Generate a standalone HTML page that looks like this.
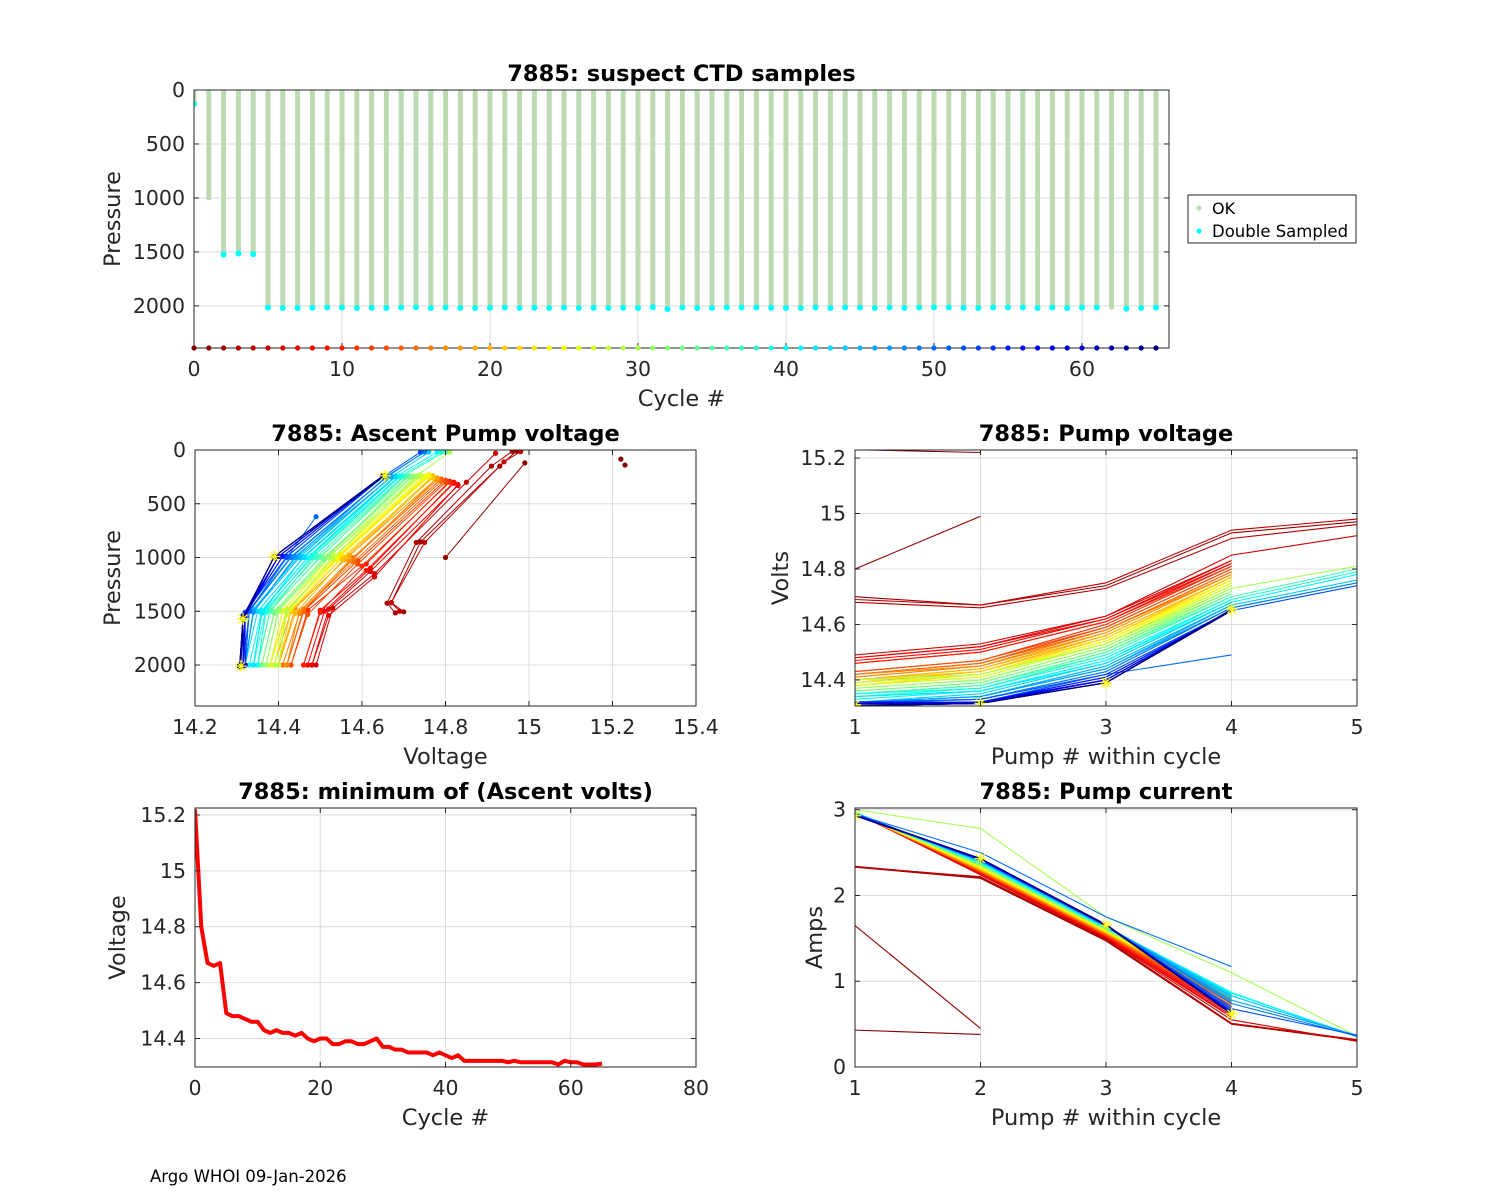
<!DOCTYPE html>
<html><head><meta charset="utf-8"><title>7885 pump diagnostics</title>
<style>
html,body{margin:0;padding:0;background:#fff;}
svg{display:block;font-family:"DejaVu Sans","Liberation Sans",sans-serif;}
.tk{font-size:20.5px;fill:#262626;}
.lb{font-size:22.5px;fill:#262626;}
.tt{font-size:22.5px;font-weight:bold;fill:#000;}
</style></head>
<body>
<svg id="fig" width="1500" height="1200" viewBox="0 0 1500 1200"></svg>
<script>
const N = null;
// cycles 0..65
const cycles = [0,1,2,3,4,5,6,7,8,9,10,11,12,13,14,15,16,17,18,19,20,21,22,23,24,25,26,27,28,29,30,31,32,33,34,35,36,37,38,39,40,41,42,43,44,45,46,47,48,49,50,51,52,53,54,55,56,57,58,59,60,61,62,63,64,65];
// max pressure sampled per cycle and double-sampled flag
const maxDepth = [125,1000,1520,1510,1515, 2010,2015,2015,2012,2010, 2010,2015,2012,2015,2010,2008,2015,2010,2015,2015, 2012,2010,2015,2012,2015,2010,2015,2012,2015,2012, 2015,2008,2025,2010,2015,2015,2010,2010,2010,2012, 2015,2015,2010,2015,2010,2010,2015,2010,2015,2010, 2008,2010,2012,2015,2010,2010,2010,2015,2010,2015, 2010,2010,2012,2020,2015,2010];
const dblSampled = [1,0,1,1,1, 1,1,1,1,1, 1,1,1,1,1,1,1,1,1,1, 1,1,1,1,1,1,1,1,1,1, 1,1,1,1,1,1,1,1,1,1, 1,1,1,1,1,1,1,1,1,1, 1,1,1,1,1,1,1,1,1,1, 1,1,0,1,1,1];
// pump voltages (pump 1..5) per cycle
const v1 = [15.23,14.80,14.70,14.68,14.69, 14.49,14.48,14.48,14.47,14.46,
14.46,14.43,14.42,14.43,14.42,14.42,14.41,14.42,14.40,14.39,
14.40,14.40,14.38,14.38,14.39,14.39,14.38,14.38,14.39,14.40,
14.37,14.37,14.36,14.36,14.35,14.35,14.35,14.35,14.34,14.35,
14.34,14.33,14.34,14.32,14.32,14.32,14.32,14.32,14.32,14.32,
14.315,14.32,14.315,14.315,14.315,14.315,14.315,14.315,14.307,14.32,
14.315,14.315,14.307,14.307,14.307,14.31];
const v2 = [15.22,14.99,14.67,14.66,14.67, 14.53,14.52,14.52,14.51,14.50,
14.50,14.47,14.46,14.47,14.46,14.46,14.45,14.45,14.44,14.43,
14.44,14.43,14.42,14.42,14.42,14.42,14.41,14.41,14.42,14.42,
14.40,14.40,14.39,14.39,14.38,14.38,14.38,14.37,14.37,14.37,
14.36,14.36,14.36,14.35,14.34,14.34,14.34,14.34,14.33,14.33,
14.33,14.33,14.32,14.32,14.32,14.32,14.32,14.315,14.315,14.32,
14.315,14.315,14.315,14.315,14.315,14.315];
const v3 = [N,N,14.74,14.73,14.75, 14.63,14.63,14.62,14.62,14.61,
14.61,14.60,14.59,14.59,14.58,14.58,14.58,14.57,14.57,14.56,
14.56,14.55,14.55,14.54,14.54,14.54,14.53,14.53,14.53,14.53,
14.52,14.52,14.51,14.51,14.50,14.50,14.49,14.49,14.48,14.48,
14.47,14.47,14.46,14.46,14.45,14.45,14.44,14.44,14.43,14.43,
14.42,14.42,14.42,14.41,14.41,14.41,14.40,14.40,14.40,14.40,
14.39,14.39,14.39,14.39,14.39,14.39];
const v4 = [N,N,14.93,14.91,14.94, 14.85,14.83,14.83,14.82,14.82,
14.81,14.81,14.80,14.80,14.79,14.79,14.78,14.78,14.78,14.77,
14.77,14.77,14.76,14.76,14.76,14.75,14.75,14.74,14.74,14.73,
14.73,14.72,14.72,14.71,14.71,14.70,14.70,14.70,14.69,14.69,
14.69,14.68,14.68,14.68,14.67,14.67,14.67,14.66,14.66,14.66,
14.49,14.65,14.65,14.65,14.65,14.65,14.65,14.65,14.65,14.65,
14.65,14.65,14.65,14.65,14.65,14.655];
const v5 = [N,N,14.97,14.96,14.98, 14.92,N,N,N,N,
N,N,N,N,N,N,N,N,N,N,
N,N,N,N,N,N,N,N,N,N,
14.81,N,N,N,N,N,14.80,N,14.79,N,
N,14.78,N,N,14.76,N,N,14.75,N,14.75,
N,N,14.74,N,N,N,N,N,N,N,
N,N,N,N,N,N];
// pressure at each pump during ascent
const p1 = [140,1000,1505,1515,1500, 2000,2000,2000,2000,2000,
2000,2000,2000,2000,2000,2000,2000,2000,2000,2000,
2000,2000,2000,2000,2000,2000,2000,2000,2000,2000,
2000,2000,2000,2000,2000,2000,2000,2000,2000,2000,
2000,2000,2000,2000,2000,2000,2000,2000,2000,2000,
2000,2000,2000,2000,2000,2000,2000,2000,2000,2000,
2010,2010,2010,2015,2015,2010];
const p2 = [85,120,1420,1425,1420, 1470,1540,1480,1500,1490,
1510,1490,1500,1530,1500,1480,1520,1500,1470,1500,
1520,1500,1480,1500,1530,1500,1490,1500,1520,1500,
1500,1480,1500,1520,1500,1490,1500,1510,1480,1500,
1500,1490,1520,1500,1480,1500,1510,1500,1490,1500,
1500,1500,1510,1520,1520,1530,1530,1540,1540,1550,
1550,1560,1560,1570,1570,1570];
const p3 = [N,N,855,860,860, 1150,1180,1130,1100,1120,
1060,1080,1030,1060,1000,1040,1010,1030,980,1020,
1000,1010,970,1000,1020,990,1000,960,1000,1010,
1000,980,1000,1020,990,1000,970,1000,1000,980,
1000,1000,990,1000,980,1000,990,1000,990,1000,
1000,990,990,990,990,990,990,990,990,990,
990,990,990,990,990,990];
const p4 = [N,N,150,150,110, 300,320,330,300,310,
290,300,280,300,270,290,260,280,260,250,
240,260,230,250,240,250,240,250,230,250,
240,250,240,250,240,250,240,250,250,240,
250,250,240,250,250,245,250,240,250,250,
620,250,250,245,245,245,245,240,240,240,
240,240,240,240,240,240];
const p5 = [N,N,10,12,15, 30,N,N,N,N,
N,N,N,N,N,N,N,N,N,N,
N,N,N,N,N,N,N,N,N,N,
20,N,N,N,N,N,15,N,20,N,
N,20,N,N,20,N,N,20,N,15,
N,N,20,N,N,N,N,N,N,N,
N,N,N,N,N,N];
// pump currents (amps)
const i1 = [0.43,1.65,2.33,2.34,2.33, 2.97,2.97,2.97,2.96,2.97,
2.97,2.97,2.96,2.97,2.97,2.97,2.96,2.97,2.97,2.97,
2.96,2.97,2.97,2.97,2.96,2.97,2.97,2.97,2.96,2.97,
3.00,2.97,2.96,2.97,2.97,2.96,2.97,2.96,2.97,2.96,
2.96,2.96,2.95,2.96,2.95,2.96,2.95,2.95,2.95,2.95,
2.95,2.95,2.94,2.95,2.94,2.94,2.94,2.94,2.94,2.94,
2.94,2.93,2.93,2.93,2.93,2.93];
const i2 = [0.38,0.45,2.20,2.21,2.22, 2.24,2.25,2.25,2.26,2.26,
2.27,2.27,2.28,2.28,2.28,2.29,2.29,2.30,2.30,2.30,
2.31,2.31,2.32,2.32,2.32,2.33,2.33,2.34,2.34,2.35,
2.78,2.35,2.36,2.36,2.37,2.37,2.37,2.38,2.38,2.38,
2.39,2.39,2.39,2.40,2.40,2.40,2.40,2.41,2.41,2.41,
2.50,2.41,2.42,2.42,2.42,2.42,2.42,2.42,2.43,2.43,
2.43,2.43,2.43,2.43,2.43,2.43];
const i3 = [N,N,1.47,1.48,1.49, 1.50,1.51,1.51,1.52,1.52,
1.53,1.53,1.54,1.54,1.55,1.55,1.55,1.56,1.56,1.57,
1.57,1.57,1.58,1.58,1.58,1.59,1.59,1.59,1.60,1.60,
1.75,1.60,1.61,1.61,1.61,1.62,1.62,1.62,1.62,1.63,
1.63,1.63,1.63,1.64,1.64,1.64,1.64,1.64,1.65,1.65,
1.75,1.65,1.65,1.65,1.65,1.66,1.66,1.66,1.66,1.66,
1.66,1.66,1.66,1.66,1.66,1.65];
const i4 = [N,N,0.50,0.50,0.51, 0.55,0.58,0.60,0.62,0.64,
0.66,0.68,0.70,0.72,0.74,0.75,0.76,0.77,0.78,0.79,
0.80,0.80,0.81,0.82,0.82,0.83,0.83,0.84,0.84,0.85,
1.10,0.85,0.86,0.86,0.86,0.86,0.87,0.87,0.87,0.87,
0.86,0.86,0.85,0.84,0.83,0.82,0.80,0.78,0.76,0.74,
1.17,0.70,0.68,0.66,0.65,0.64,0.64,0.63,0.63,0.63,
0.62,0.62,0.62,0.62,0.62,0.62];
const i5 = [N,N,0.31,0.31,0.32, 0.30,N,N,N,N,
N,N,N,N,N,N,N,N,N,N,
N,N,N,N,N,N,N,N,N,N,
0.36,N,N,N,N,N,0.35,N,0.35,N,
N,0.36,N,N,0.36,N,N,0.37,N,0.36,
N,N,0.37,N,N,N,N,N,N,N,
N,N,N,N,N,N];
const pumpNums = [1,2,3,4,5];
const topYTicks = [0,500,1000,1500,2000];
const topXTicks = [0,10,20,30,40,50,60];
const ascXTicks = [14.2,14.4,14.6,14.8,15,15.2,15.4];
const ascYTicks = [0,500,1000,1500,2000];
const pvYTicks = [14.4,14.6,14.8,15,15.2];
const minXTicks = [0,20,40,60,80];
const minYTicks = [14.4,14.6,14.8,15,15.2];
const curYTicks = [0,1,2,3];

const NS = 'http://www.w3.org/2000/svg';
const fig = document.getElementById('fig');
function mk(tag, attrs, parent){
  const e = document.createElementNS(NS, tag);
  for (const k in attrs) e.setAttribute(k, attrs[k]);
  (parent||fig).appendChild(e);
  return e;
}
function jet(c){
  const t = 1 - c/65;
  const cl = v => Math.max(0, Math.min(1, v));
  const r = cl(1.5 - Math.abs(4*t-3)), g = cl(1.5 - Math.abs(4*t-2)), b = cl(1.5 - Math.abs(4*t-1));
  return 'rgb(' + Math.round(r*255) + ',' + Math.round(g*255) + ',' + Math.round(b*255) + ')';
}
function fmt(v){ return String(Math.round(v*100)/100); }

function makeAxes(name, box, xlim, ylim, rev, xticks, yticks, title, xlabel, ylabel, opts){
  opts = opts || {};
  const g = mk('g', {});
  
  
  const sx = v => box.x + (v - xlim[0]) / (xlim[1]-xlim[0]) * box.w;
  const sy = rev ? (v => box.y + (v - ylim[0]) / (ylim[1]-ylim[0]) * box.h)
                 : (v => box.y + box.h - (v - ylim[0]) / (ylim[1]-ylim[0]) * box.h);
  const grid = mk('g', {stroke:'#dedede','stroke-width':1}, g);
  
  
  xticks.forEach(t => mk('line', {x1:sx(t), x2:sx(t), y1:box.y, y2:box.y+box.h}, grid));
  yticks.forEach(t => mk('line', {x1:box.x, x2:box.x+box.w, y1:sy(t), y2:sy(t)}, grid));
  const id = 'clip-' + name;
  const cp = mk('clipPath', {id:id}, g);
  mk('rect', {x:box.x, y:box.y, width:box.w, height:box.h}, cp);
  const plot = mk('g', {'clip-path':'url(#'+id+')'}, g);
  
  
  const frame = mk('g', {}, g);
  function finish(){
    mk('rect', {x:box.x, y:box.y, width:box.w, height:box.h, fill:'none', stroke:'#262626', 'stroke-width':1}, frame);
    const tl = 5;
    xticks.forEach(t => {
      mk('line', {x1:sx(t), x2:sx(t), y1:box.y+box.h, y2:box.y+box.h-tl, stroke:'#262626'}, frame);
      if (!opts.noTopTicks) mk('line', {x1:sx(t), x2:sx(t), y1:box.y, y2:box.y+tl, stroke:'#262626'}, frame);
      const tx = mk('text', {x:sx(t), y:box.y+box.h+28, 'text-anchor':'middle', class:'tk'}, frame);
      
      
      tx.textContent = fmt(t);
    });
    yticks.forEach(t => {
      mk('line', {x1:box.x, x2:box.x+tl, y1:sy(t), y2:sy(t), stroke:'#262626'}, frame);
      mk('line', {x1:box.x+box.w, x2:box.x+box.w-tl, y1:sy(t), y2:sy(t), stroke:'#262626'}, frame);
      const ty = mk('text', {x:box.x-9, y:sy(t)+7, 'text-anchor':'end', class:'tk'}, frame);
      
      
      ty.textContent = fmt(t);
    });
    const tt = mk('text', {x:box.x+box.w/2, y:box.y-9, 'text-anchor':'middle', class:'tt'}, frame);
    
    
    tt.textContent = title;
    const xl = mk('text', {x:box.x+box.w/2, y:box.y+box.h+58, 'text-anchor':'middle', class:'lb'}, frame);
    
    
    xl.textContent = xlabel;
    const yx = opts.ylx, yy = box.y + box.h/2;
    const yl = mk('text', {x:yx, y:yy, 'text-anchor':'middle', class:'lb', transform:'rotate(-90 '+yx+' '+yy+')'}, frame);
    
    
    yl.textContent = ylabel;
  }
  return {sx, sy, plot, finish};
}
function star(parent, x, y){
  const s = mk('g', {stroke:'#ffff00','stroke-width':1.3}, parent);
  
  
  const r = 6;
  mk('line', {x1:x-r, x2:x+r, y1:y, y2:y}, s);
  mk('line', {x1:x, x2:x, y1:y-r, y2:y+r}, s);
  mk('line', {x1:x-r*0.7, x2:x+r*0.7, y1:y-r*0.7, y2:y+r*0.7}, s);
  mk('line', {x1:x-r*0.7, x2:x+r*0.7, y1:y+r*0.7, y2:y-r*0.7}, s);
}

// ---------- Top: suspect CTD samples ----------
const A = makeAxes('ctd-samples-chart', {x:194,y:90,w:975,h:258}, [0,65.88], [0,2390], true,
  topXTicks, topYTicks, '7885: suspect CTD samples', 'Cycle #', 'Pressure', {ylx:120, noTopTicks:true});
cycles.forEach((c,k) => {
  const bar = mk('line', {x1:A.sx(c), x2:A.sx(c), y1:A.sy(0)-1, y2:A.sy(maxDepth[k]), stroke:'#bcdbb2','stroke-width':5,'stroke-linecap':'round'}, A.plot);
  
  
});
cycles.forEach((c,k) => {
  if (dblSampled[k]) {
    const d = mk('circle', {cx:A.sx(c), cy:A.sy(maxDepth[k]+5), r:3, fill:'#00ffff'}, A.plot);
    
    
  }
});
A.finish();
cycles.forEach(c => {
  const d = mk('circle', {cx:A.sx(c), cy:348, r:2.6, fill:jet(c)});
  
  
});
// legend
const lg = mk('g', {});


mk('rect', {x:1188, y:195, width:168, height:48, fill:'#fff', stroke:'#262626'}, lg);
mk('circle', {cx:1199, cy:208, r:2.6, fill:'#bcdbb2'}, lg);
mk('circle', {cx:1199, cy:231, r:2.6, fill:'#00ffff'}, lg);
const l1 = mk('text', {x:1212, y:214, style:'font-size:16px', fill:'#000'}, lg);


l1.textContent = 'OK';
const l2 = mk('text', {x:1212, y:237, style:'font-size:16.5px', fill:'#000'}, lg);


l2.textContent = 'Double Sampled';

const volts = [v1,v2,v3,v4,v5];
const press = [p1,p2,p3,p4,p5];
const amps = [i1,i2,i3,i4,i5];

// ---------- Ascent pump voltage ----------
const B = makeAxes('ascent-voltage-chart', {x:195,y:450,w:501,h:256}, [14.2,15.4], [0,2381], true,
  ascXTicks, ascYTicks, '7885: Ascent Pump voltage', 'Voltage', 'Pressure', {ylx:120});
cycles.forEach((c,k) => {
  const pts = [];
  for (let j=0;j<5;j++){ if (volts[j][k]!=null && press[j][k]!=null) pts.push([B.sx(volts[j][k]), B.sy(press[j][k])]); }
  const col = jet(c);
  if (c > 0 && pts.length > 1) {
    const pl = mk('polyline', {points:pts.map(p=>p.join(',')).join(' '), fill:'none', stroke:col, 'stroke-width':1}, B.plot);
    
    
  }
  pts.forEach(p => {
    const d = mk('circle', {cx:p[0], cy:p[1], r:2.6, fill:col}, B.plot);
    
    
  });
});
{ const k = cycles.length-1; for (let j=0;j<5;j++){ if (volts[j][k]!=null && press[j][k]!=null) star(B.plot, B.sx(volts[j][k]), B.sy(press[j][k])); } }
B.finish();

// ---------- Pump voltage ----------
const C = makeAxes('pump-voltage-chart', {x:855,y:450,w:502,h:256}, [1,5], [14.306,15.229], false,
  pumpNums, pvYTicks, '7885: Pump voltage', 'Pump # within cycle', 'Volts', {ylx:788});
cycles.forEach((c,k) => {
  const pts = [];
  pumpNums.forEach((n,j) => { if (volts[j][k]!=null) pts.push([C.sx(n), C.sy(volts[j][k])]); });
  const pl = mk('polyline', {points:pts.map(p=>p.join(',')).join(' '), fill:'none', stroke:jet(c), 'stroke-width':1.1}, C.plot);
  
  
});
{ const k = cycles.length-1; pumpNums.forEach((n,j) => { if (volts[j][k]!=null && n<5) star(C.plot, C.sx(n), C.sy(volts[j][k])); }); }
C.finish();

// ---------- Minimum ascent volts ----------
const D = makeAxes('min-voltage-chart', {x:195,y:808,w:501,h:259}, [0,80], [14.298,15.225], false,
  minXTicks, minYTicks, '7885: minimum of (Ascent volts)', 'Cycle #', 'Voltage', {ylx:125});
const minPts = cycles.map((c,k) => {
  const vals = volts.map(a => a[k]).filter(v => v!=null);
  return [D.sx(c), D.sy(Math.min.apply(null, vals))];
});
const ml = mk('polyline', {points:minPts.map(p=>p.join(',')).join(' '), fill:'none', stroke:'#ff0000', 'stroke-width':4, 'stroke-linejoin':'round'}, D.plot);


D.finish();

// ---------- Pump current ----------
const E = makeAxes('pump-current-chart', {x:855,y:808,w:502,h:259}, [1,5], [0,3.02], false,
  pumpNums, curYTicks, '7885: Pump current', 'Pump # within cycle', 'Amps', {ylx:822});
cycles.forEach((c,k) => {
  const pts = [];
  pumpNums.forEach((n,j) => { if (amps[j][k]!=null) pts.push([E.sx(n), E.sy(amps[j][k])]); });
  const pl = mk('polyline', {points:pts.map(p=>p.join(',')).join(' '), fill:'none', stroke:jet(c), 'stroke-width':1.1}, E.plot);
  
  
});
{ const k = cycles.length-1; pumpNums.forEach((n,j) => { if (amps[j][k]!=null) star(E.plot, E.sx(n), E.sy(amps[j][k])); }); }
E.finish();

// footer
const ft = mk('text', {x:150, y:1182, style:'font-size:16.5px', fill:'#000'});


ft.textContent = 'Argo WHOI 09-Jan-2026';
</script>
</body></html>
